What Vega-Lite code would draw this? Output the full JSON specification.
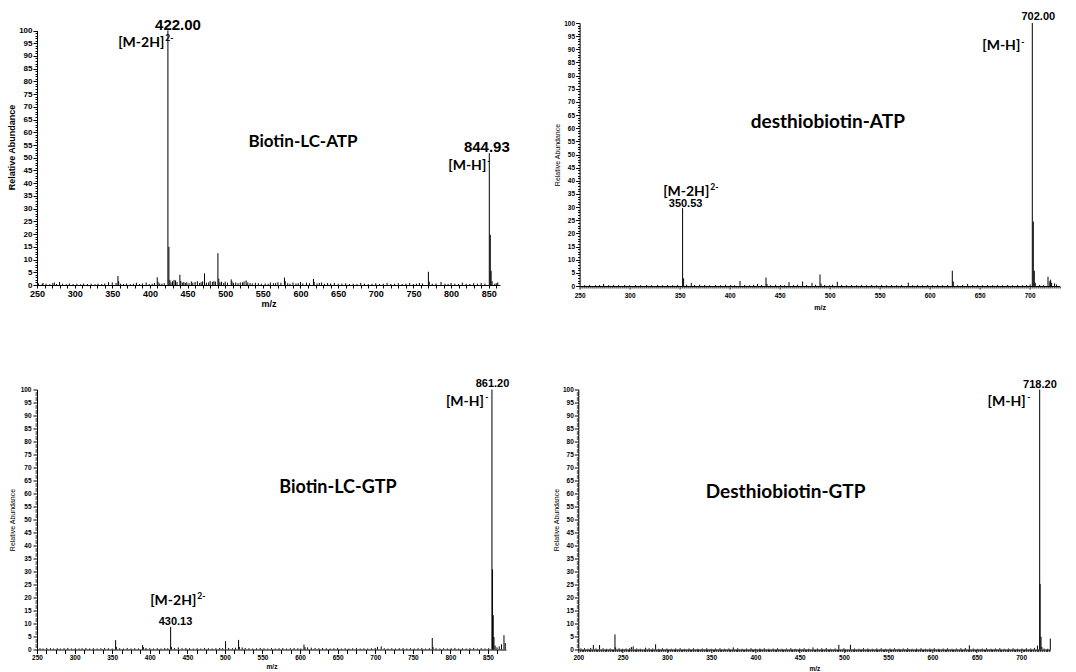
{
"$schema": "https://vega.github.io/schema/vega-lite/v6.json",
"background": "white",
"padding": {"left": 7, "top": 11, "right": 5, "bottom": 3},
"config": {"view": {"stroke": null}},
"datasets": {
"p1": [
{"mz":423.9,"ab":100},{"mz":425.2,"ab":15},{"mz":426.5,"ab":2.0},{"mz":357.5,"ab":3.5},{"mz":358.5,"ab":1.5},{"mz":409.7,"ab":3.0},{"mz":410.8,"ab":1.2},{"mz":430,"ab":1.5},{"mz":432,"ab":2.0},{"mz":434,"ab":1.8},{"mz":439.8,"ab":4.0},{"mz":441,"ab":1.6},{"mz":445,"ab":1.2},{"mz":472.5,"ab":4.6},{"mz":470,"ab":1.4},{"mz":480,"ab":1.6},{"mz":485,"ab":1.5},{"mz":490.3,"ab":12.5},{"mz":491.5,"ab":2.5},{"mz":495,"ab":1.3},{"mz":508,"ab":2.2},{"mz":509,"ab":1.4},{"mz":527.8,"ab":1.8},{"mz":525,"ab":1.4},{"mz":530,"ab":1.0},{"mz":578.7,"ab":2.9},{"mz":579.7,"ab":1.5},{"mz":617.2,"ab":2.4},{"mz":618.2,"ab":1.2},{"mz":769.9,"ab":5.2},{"mz":771,"ab":1.3},{"mz":786.7,"ab":1.2},{"mz":850.8,"ab":51.8},{"mz":852.1,"ab":19.7},{"mz":853.2,"ab":5.6},{"mz":854.5,"ab":1.5},{"mz":862,"ab":1.0},{"mz":280,"ab":1.2},{"mz":273,"ab":1.0},{"mz":258,"ab":0.8},{"mz":345,"ab":1.1},{"mz":350,"ab":1.0},{"mz":395,"ab":1.0},{"mz":382,"ab":0.9},{"mz":455,"ab":1.4},{"mz":460,"ab":1.2},{"mz":463,"ab":1.5},{"mz":449,"ab":1.1},{"mz":500,"ab":1.3},{"mz":514,"ab":1.0},{"mz":520,"ab":1.0},{"mz":540,"ab":0.9},{"mz":560,"ab":1.0},{"mz":570,"ab":1.1},{"mz":590,"ab":1.0},{"mz":600,"ab":1.2},{"mz":608,"ab":0.9},{"mz":628,"ab":1.0},{"mz":636,"ab":0.8},{"mz":645,"ab":0.8},{"mz":660,"ab":0.7},{"mz":680,"ab":0.8},{"mz":700,"ab":0.7},{"mz":715,"ab":0.8},{"mz":730,"ab":0.7},{"mz":745,"ab":0.8},{"mz":758,"ab":0.8},{"mz":800,"ab":0.8},{"mz":815,"ab":0.9},{"mz":830,"ab":0.7},{"mz":840,"ab":0.8},
{"mz":252,"ab":0.6},{"mz":257,"ab":0.4},{"mz":262,"ab":0.5},{"mz":267,"ab":0.3},{"mz":271,"ab":0.7},{"mz":276,"ab":0.4},{"mz":284,"ab":0.5},{"mz":289,"ab":0.3},{"mz":293,"ab":0.6},{"mz":298,"ab":0.4},{"mz":303,"ab":0.5},{"mz":308,"ab":0.3},{"mz":312,"ab":0.6},{"mz":317,"ab":0.4},{"mz":322,"ab":0.5},{"mz":327,"ab":0.3},{"mz":331,"ab":0.5},{"mz":336,"ab":0.4},{"mz":340,"ab":0.6},{"mz":355,"ab":0.8},{"mz":361,"ab":0.5},{"mz":365,"ab":0.4},{"mz":369,"ab":0.6},{"mz":374,"ab":0.3},{"mz":378,"ab":0.5},{"mz":386,"ab":0.4},{"mz":390,"ab":0.6},{"mz":399,"ab":0.4},{"mz":403,"ab":0.5},{"mz":406,"ab":0.8},{"mz":413,"ab":0.6},{"mz":416,"ab":0.5},{"mz":419,"ab":0.7},{"mz":428,"ab":1.0},{"mz":436,"ab":1.2},{"mz":443,"ab":0.9},{"mz":447,"ab":0.8},{"mz":452,"ab":0.7},{"mz":457,"ab":0.9},{"mz":466,"ab":0.8},{"mz":468,"ab":1.1},{"mz":475,"ab":0.9},{"mz":478,"ab":1.0},{"mz":483,"ab":1.2},{"mz":487,"ab":1.3},{"mz":493,"ab":1.0},{"mz":498,"ab":0.8},{"mz":503,"ab":0.9},{"mz":511,"ab":0.8},{"mz":517,"ab":0.7},{"mz":523,"ab":1.0},{"mz":533,"ab":0.8},{"mz":536,"ab":0.6},{"mz":544,"ab":0.7},{"mz":548,"ab":0.5},{"mz":553,"ab":0.6},{"mz":557,"ab":0.5},{"mz":564,"ab":0.7},{"mz":567,"ab":0.8},{"mz":574,"ab":0.9},{"mz":583,"ab":0.7},{"mz":586,"ab":0.5},{"mz":594,"ab":0.6},{"mz":597,"ab":0.7},{"mz":603,"ab":0.6},{"mz":612,"ab":0.7},{"mz":622,"ab":0.6},{"mz":625,"ab":0.8},{"mz":632,"ab":0.5},{"mz":640,"ab":0.6},{"mz":650,"ab":0.5},{"mz":655,"ab":0.6},{"mz":665,"ab":0.4},{"mz":670,"ab":0.5},{"mz":675,"ab":0.4},{"mz":685,"ab":0.5},{"mz":690,"ab":0.4},{"mz":695,"ab":0.5},{"mz":705,"ab":0.4},{"mz":710,"ab":0.5},{"mz":720,"ab":0.4},{"mz":725,"ab":0.5},{"mz":735,"ab":0.4},{"mz":740,"ab":0.5},{"mz":750,"ab":0.4},{"mz":754,"ab":0.5},{"mz":762,"ab":0.6},{"mz":775,"ab":0.5},{"mz":780,"ab":0.6},{"mz":792,"ab":0.5},{"mz":796,"ab":0.4},{"mz":805,"ab":0.5},{"mz":810,"ab":0.4},{"mz":820,"ab":0.5},{"mz":825,"ab":0.4},{"mz":835,"ab":0.5},{"mz":845,"ab":0.6},{"mz":858,"ab":0.5},{"mz":860,"ab":0.7}
],
"t1": [
{"k":"mz","t":"422.00","mz":437.3,"ab":100.1},{"k":"mz","t":"844.93","mz":847.5,"ab":52.1},
{"k":"ion","t":"[M-2H]","mz":419.1,"ab":93.6},{"k":"sup","t":"2-","mz":420.4,"ab":96.0},
{"k":"ion","t":"[M-H]","mz":846.8,"ab":45.3},{"k":"sup","t":"-","mz":848.1,"ab":47.5},
{"k":"name","t":"Biotin-LC-ATP","mz":603.3,"ab":54.3}
],
"p2": [
{"mz":353,"ab":29.6},{"mz":354,"ab":2.9},{"mz":361.7,"ab":1.2},{"mz":410.4,"ab":1.9},{"mz":428,"ab":0.8},{"mz":436.4,"ab":3.2},{"mz":437.4,"ab":0.8},{"mz":459.4,"ab":1.5},{"mz":473,"ab":1.7},{"mz":482.4,"ab":1.2},{"mz":490.4,"ab":4.4},{"mz":491.4,"ab":0.9},{"mz":507.7,"ab":1.6},{"mz":578.7,"ab":1.3},{"mz":622.7,"ab":5.8},{"mz":623.7,"ab":1.7},{"mz":638,"ab":0.8},{"mz":702.7,"ab":100},{"mz":703.7,"ab":24.5},{"mz":704.7,"ab":5.8},{"mz":705.7,"ab":1.2},{"mz":700.5,"ab":0.6},{"mz":718.4,"ab":3.5},{"mz":720.2,"ab":1.8},{"mz":721,"ab":2.4},{"mz":722,"ab":1.2},{"mz":725,"ab":1.0},{"mz":727,"ab":0.6},{"mz":274,"ab":0.8},
{"mz":255,"ab":0.3},{"mz":260,"ab":0.4},{"mz":266,"ab":0.3},{"mz":270,"ab":0.4},{"mz":279,"ab":0.3},{"mz":284,"ab":0.4},{"mz":289,"ab":0.3},{"mz":295,"ab":0.4},{"mz":300,"ab":0.3},{"mz":306,"ab":0.4},{"mz":311,"ab":0.3},{"mz":317,"ab":0.4},{"mz":322,"ab":0.3},{"mz":328,"ab":0.4},{"mz":333,"ab":0.3},{"mz":338,"ab":0.4},{"mz":343,"ab":0.3},{"mz":348,"ab":0.4},{"mz":357,"ab":0.5},{"mz":365,"ab":0.4},{"mz":370,"ab":0.5},{"mz":375,"ab":0.4},{"mz":380,"ab":0.3},{"mz":386,"ab":0.4},{"mz":391,"ab":0.3},{"mz":396,"ab":0.5},{"mz":401,"ab":0.4},{"mz":405,"ab":0.3},{"mz":415,"ab":0.4},{"mz":420,"ab":0.3},{"mz":424,"ab":0.5},{"mz":432,"ab":0.4},{"mz":441,"ab":0.3},{"mz":446,"ab":0.5},{"mz":451,"ab":0.4},{"mz":455,"ab":0.3},{"mz":464,"ab":0.4},{"mz":468,"ab":0.5},{"mz":477,"ab":0.4},{"mz":486,"ab":0.5},{"mz":495,"ab":0.4},{"mz":500,"ab":0.3},{"mz":503,"ab":0.5},{"mz":512,"ab":0.4},{"mz":517,"ab":0.3},{"mz":522,"ab":0.4},{"mz":527,"ab":0.3},{"mz":532,"ab":0.4},{"mz":537,"ab":0.3},{"mz":542,"ab":0.4},{"mz":547,"ab":0.3},{"mz":552,"ab":0.4},{"mz":557,"ab":0.3},{"mz":562,"ab":0.4},{"mz":567,"ab":0.3},{"mz":572,"ab":0.4},{"mz":583,"ab":0.3},{"mz":588,"ab":0.4},{"mz":593,"ab":0.3},{"mz":598,"ab":0.4},{"mz":603,"ab":0.3},{"mz":608,"ab":0.4},{"mz":613,"ab":0.3},{"mz":618,"ab":0.4},{"mz":628,"ab":0.3},{"mz":633,"ab":0.4},{"mz":643,"ab":0.3},{"mz":648,"ab":0.4},{"mz":653,"ab":0.3},{"mz":658,"ab":0.4},{"mz":663,"ab":0.3},{"mz":668,"ab":0.4},{"mz":673,"ab":0.3},{"mz":678,"ab":0.4},{"mz":683,"ab":0.3},{"mz":688,"ab":0.4},{"mz":693,"ab":0.3},{"mz":697,"ab":0.4},{"mz":710,"ab":0.4},{"mz":714,"ab":0.3}
],
"t2": [
{"k":"mz","t":"702.00","mz":708.7,"ab":101.0},{"k":"mz","t":"350.53","mz":356.0,"ab":30.0},
{"k":"ion","t":"[M-H]","mz":690.7,"ab":89.8},{"k":"sup","t":"-","mz":691.7,"ab":91.7},
{"k":"ion","t":"[M-2H]","mz":379.7,"ab":34.3},{"k":"sup","t":"2-","mz":380.7,"ab":36.6},
{"k":"name","t":"desthiobiotin-ATP","mz":498.2,"ab":60.1}
],
"p3": [
{"mz":855.3,"ab":100},{"mz":856,"ab":30.8},{"mz":857,"ab":13.2},{"mz":858,"ab":4.8},{"mz":859.5,"ab":1.5},{"mz":868,"ab":2.0},{"mz":871.3,"ab":5.5},{"mz":873,"ab":2.5},{"mz":865,"ab":1.2},{"mz":862,"ab":0.8},{"mz":427.8,"ab":8.7},{"mz":428.8,"ab":1.0},{"mz":354.6,"ab":3.6},{"mz":355.6,"ab":1.0},{"mz":390.5,"ab":1.7},{"mz":391.5,"ab":0.9},{"mz":500.9,"ab":3.2},{"mz":518.2,"ab":3.7},{"mz":519.2,"ab":1.0},{"mz":605.2,"ab":1.9},{"mz":606.5,"ab":0.9},{"mz":775.9,"ab":4.4},{"mz":777,"ab":0.9},{"mz":708,"ab":1.2},{"mz":703,"ab":1.0},
{"mz":254,"ab":0.5},{"mz":258,"ab":0.4},{"mz":263,"ab":0.6},{"mz":268,"ab":0.5},{"mz":272,"ab":0.4},{"mz":277,"ab":0.5},{"mz":281,"ab":0.4},{"mz":286,"ab":0.5},{"mz":291,"ab":0.6},{"mz":296,"ab":0.4},{"mz":301,"ab":0.5},{"mz":306,"ab":0.4},{"mz":310,"ab":0.5},{"mz":315,"ab":0.6},{"mz":320,"ab":0.4},{"mz":325,"ab":0.5},{"mz":330,"ab":0.4},{"mz":335,"ab":0.5},{"mz":340,"ab":0.6},{"mz":345,"ab":0.5},{"mz":350,"ab":0.4},{"mz":360,"ab":0.5},{"mz":365,"ab":0.4},{"mz":370,"ab":0.6},{"mz":375,"ab":0.4},{"mz":380,"ab":0.5},{"mz":385,"ab":0.4},{"mz":395,"ab":0.6},{"mz":400,"ab":0.5},{"mz":405,"ab":0.4},{"mz":410,"ab":0.5},{"mz":415,"ab":0.4},{"mz":420,"ab":0.6},{"mz":424,"ab":0.5},{"mz":433,"ab":0.6},{"mz":438,"ab":0.8},{"mz":443,"ab":0.5},{"mz":448,"ab":0.6},{"mz":453,"ab":0.5},{"mz":458,"ab":0.4},{"mz":463,"ab":0.5},{"mz":468,"ab":0.4},{"mz":473,"ab":0.6},{"mz":478,"ab":0.5},{"mz":483,"ab":0.4},{"mz":488,"ab":0.5},{"mz":493,"ab":0.6},{"mz":497,"ab":0.5},{"mz":505,"ab":0.6},{"mz":510,"ab":0.5},{"mz":514,"ab":0.7},{"mz":523,"ab":0.8},{"mz":527,"ab":0.6},{"mz":532,"ab":0.5},{"mz":537,"ab":0.4},{"mz":542,"ab":0.5},{"mz":547,"ab":0.6},{"mz":552,"ab":0.5},{"mz":557,"ab":0.4},{"mz":562,"ab":0.5},{"mz":567,"ab":0.4},{"mz":572,"ab":0.5},{"mz":577,"ab":0.6},{"mz":582,"ab":0.4},{"mz":587,"ab":0.5},{"mz":592,"ab":0.6},{"mz":597,"ab":0.5},{"mz":601,"ab":0.4},{"mz":610,"ab":0.8},{"mz":615,"ab":0.7},{"mz":620,"ab":0.6},{"mz":625,"ab":0.5},{"mz":630,"ab":0.6},{"mz":635,"ab":0.5},{"mz":640,"ab":0.4},{"mz":645,"ab":0.5},{"mz":650,"ab":0.6},{"mz":655,"ab":0.4},{"mz":660,"ab":0.5},{"mz":665,"ab":0.4},{"mz":670,"ab":0.5},{"mz":675,"ab":0.6},{"mz":680,"ab":0.4},{"mz":685,"ab":0.5},{"mz":690,"ab":0.4},{"mz":695,"ab":0.5},{"mz":700,"ab":0.6},{"mz":712,"ab":0.5},{"mz":717,"ab":0.4},{"mz":722,"ab":0.5},{"mz":727,"ab":0.4},{"mz":732,"ab":0.5},{"mz":737,"ab":0.6},{"mz":742,"ab":0.4},{"mz":747,"ab":0.5},{"mz":752,"ab":0.4},{"mz":757,"ab":0.5},{"mz":762,"ab":0.6},{"mz":767,"ab":0.4},{"mz":772,"ab":0.5},{"mz":781,"ab":0.5},{"mz":786,"ab":0.4},{"mz":791,"ab":0.5},{"mz":796,"ab":0.4},{"mz":801,"ab":0.5},{"mz":806,"ab":0.6},{"mz":811,"ab":0.4},{"mz":816,"ab":0.5},{"mz":821,"ab":0.4},{"mz":826,"ab":0.5},{"mz":831,"ab":0.6},{"mz":836,"ab":0.4},{"mz":841,"ab":0.5},{"mz":846,"ab":0.4},{"mz":851,"ab":0.5}
],
"t3": [
{"k":"mz","t":"861.20","mz":856.0,"ab":100.8},{"k":"mz","t":"430.13","mz":434.3,"ab":9.35},
{"k":"ion","t":"[M-H]","mz":844.7,"ab":93.6},{"k":"sup","t":"-","mz":846.5,"ab":95.9},
{"k":"ion","t":"[M-2H]","mz":462.0,"ab":17.0},{"k":"sup","t":"2-","mz":463.3,"ab":19.3},
{"k":"name","t":"Biotin-LC-GTP","mz":650.5,"ab":60.1}
],
"p4": [
{"mz":721,"ab":100},{"mz":721.5,"ab":25.2},{"mz":722.5,"ab":4.9},{"mz":723.5,"ab":1.0},{"mz":718.5,"ab":1.5},{"mz":733,"ab":4.2},{"mz":241.4,"ab":5.8},{"mz":242.2,"ab":0.8},{"mz":224,"ab":1.7},{"mz":217,"ab":1.7},{"mz":262,"ab":1.2},{"mz":287.3,"ab":2.0},{"mz":494.2,"ab":1.8},{"mz":507.3,"ab":1.8},{"mz":641.6,"ab":1.6},{"mz":465,"ab":0.8},{"mz":375,"ab":0.8},{"mz":480,"ab":0.6},{"mz":260,"ab":0.9},{"mz":276,"ab":0.7},
{"mz":203,"ab":0.4},{"mz":207,"ab":0.5},{"mz":211,"ab":0.3},{"mz":214,"ab":0.6},{"mz":220,"ab":0.4},{"mz":228,"ab":0.5},{"mz":232,"ab":0.3},{"mz":236,"ab":0.4},{"mz":246,"ab":0.5},{"mz":250,"ab":0.3},{"mz":254,"ab":0.4},{"mz":258,"ab":0.5},{"mz":266,"ab":0.4},{"mz":270,"ab":0.3},{"mz":280,"ab":0.5},{"mz":284,"ab":0.4},{"mz":291,"ab":0.3},{"mz":295,"ab":0.5},{"mz":300,"ab":0.4},{"mz":305,"ab":0.3},{"mz":310,"ab":0.4},{"mz":315,"ab":0.5},{"mz":320,"ab":0.3},{"mz":325,"ab":0.4},{"mz":330,"ab":0.5},{"mz":335,"ab":0.3},{"mz":340,"ab":0.4},{"mz":345,"ab":0.5},{"mz":350,"ab":0.3},{"mz":355,"ab":0.4},{"mz":360,"ab":0.5},{"mz":365,"ab":0.3},{"mz":370,"ab":0.4},{"mz":380,"ab":0.5},{"mz":385,"ab":0.3},{"mz":390,"ab":0.4},{"mz":395,"ab":0.5},{"mz":400,"ab":0.3},{"mz":405,"ab":0.4},{"mz":410,"ab":0.5},{"mz":415,"ab":0.3},{"mz":420,"ab":0.4},{"mz":425,"ab":0.5},{"mz":430,"ab":0.3},{"mz":435,"ab":0.4},{"mz":440,"ab":0.5},{"mz":445,"ab":0.3},{"mz":450,"ab":0.4},{"mz":455,"ab":0.5},{"mz":460,"ab":0.3},{"mz":470,"ab":0.4},{"mz":475,"ab":0.5},{"mz":485,"ab":0.3},{"mz":490,"ab":0.4},{"mz":500,"ab":0.5},{"mz":512,"ab":0.4},{"mz":517,"ab":0.3},{"mz":522,"ab":0.5},{"mz":527,"ab":0.4},{"mz":532,"ab":0.3},{"mz":537,"ab":0.4},{"mz":542,"ab":0.5},{"mz":547,"ab":0.3},{"mz":552,"ab":0.4},{"mz":557,"ab":0.5},{"mz":562,"ab":0.3},{"mz":567,"ab":0.4},{"mz":572,"ab":0.5},{"mz":577,"ab":0.3},{"mz":582,"ab":0.4},{"mz":587,"ab":0.5},{"mz":592,"ab":0.3},{"mz":597,"ab":0.4},{"mz":602,"ab":0.5},{"mz":607,"ab":0.3},{"mz":612,"ab":0.4},{"mz":617,"ab":0.5},{"mz":622,"ab":0.3},{"mz":627,"ab":0.4},{"mz":632,"ab":0.5},{"mz":637,"ab":0.6},{"mz":646,"ab":0.4},{"mz":651,"ab":0.3},{"mz":656,"ab":0.4},{"mz":661,"ab":0.5},{"mz":666,"ab":0.3},{"mz":671,"ab":0.4},{"mz":676,"ab":0.5},{"mz":681,"ab":0.3},{"mz":686,"ab":0.4},{"mz":691,"ab":0.5},{"mz":696,"ab":0.3},{"mz":701,"ab":0.4},{"mz":706,"ab":0.5},{"mz":711,"ab":0.4},{"mz":715,"ab":0.6},{"mz":726,"ab":0.4},{"mz":730,"ab":0.3}
],
"t4": [
{"k":"mz","t":"718.20","mz":721.3,"ab":100.4},
{"k":"ion","t":"[M-H]","mz":705.1,"ab":93.6},{"k":"sup","t":"-","mz":707.0,"ab":95.9},
{"k":"name","t":"Desthiobiotin-GTP","mz":434.1,"ab":58.2}
]
},
"spacing": 66.5,
"vconcat": [
{
"hconcat": [
{
"width": 463, "height": 262,
"encoding": {
  "x": {"field": "mz", "type": "quantitative", "scale": {"domain": [250, 865], "nice": false, "zero": false},
   "axis": {"title": "m/z", "tickCount": 62, "labelExpr": "datum.value % 50 === 0 ? '' + datum.value : ''", "labelOverlap": false, "labelFlush": false, "grid": false, "domainColor": "#000", "tickColor": "#000", "tickSize": 3, "labelFont": "Liberation Sans", "labelFontWeight": "bold", "labelFontSize": 9, "labelColor": "#000", "labelPadding": 1, "titleFont": "Liberation Sans", "titleFontWeight": "bold", "titleFontSize": 9, "titleColor": "#000", "titlePadding": 1}},
  "y": {"field": "ab", "type": "quantitative", "scale": {"domain": [0, 100], "nice": false, "range": [262, 7.5]},
   "axis": {"title": "Relative Abundance", "titleY": 124, "tickCount": 100, "labelExpr": "datum.value % 5 === 0 ? '' + datum.value : ''", "labelOverlap": false, "labelFlush": false, "grid": false, "domainColor": "#000", "tickColor": "#000", "tickSize": {"condition": {"test": "datum.value % 5 === 0", "value": 4}, "value": 2}, "labelFont": "Liberation Sans", "labelFontWeight": "bold", "labelFontSize": 8, "labelColor": "#000", "labelPadding": 1, "titleFont": "Liberation Sans", "titleFontWeight": "bold", "titleFontSize": 9, "titleColor": "#000", "titlePadding": 2}}
},
"layer": [
{"data": {"name": "p1"}, "mark": {"type": "rule", "color": "#000", "strokeWidth": 1}, "encoding": {"y2": {"datum": 0}}},
{"data": {"name": "t1"}, "transform": [{"filter": "datum.k === 'mz'"}], "mark": {"type": "text", "font": "Liberation Sans", "fontWeight": "bold", "fontSize": 15, "align": "center", "baseline": "alphabetic", "color": "#000"}, "encoding": {"text": {"field": "t"}}},
{"data": {"name": "t1"}, "transform": [{"filter": "datum.k === 'ion'"}], "mark": {"type": "text", "font": "Lato", "fontWeight": "bold", "fontSize": 14, "align": "right", "baseline": "alphabetic", "color": "#000"}, "encoding": {"text": {"field": "t"}}},
{"data": {"name": "t1"}, "transform": [{"filter": "datum.k === 'sup'"}], "mark": {"type": "text", "font": "Lato", "fontWeight": "bold", "fontSize": 8.5, "align": "left", "baseline": "alphabetic", "color": "#000"}, "encoding": {"text": {"field": "t"}}},
{"data": {"name": "t1"}, "transform": [{"filter": "datum.k === 'name'"}], "mark": {"type": "text", "font": "Lato", "fontWeight": "bold", "fontSize": 17, "align": "center", "baseline": "alphabetic", "color": "#000"}, "encoding": {"text": {"field": "t"}}}
]
},
{
"width": 480, "height": 263,
"encoding": {
  "x": {"field": "mz", "type": "quantitative", "scale": {"domain": [250, 730], "nice": false, "zero": false},
   "axis": {"title": "m/z", "tickCount": 240, "labelExpr": "datum.value % 50 === 0 ? '' + datum.value : ''", "labelOverlap": false, "labelFlush": false, "grid": false, "domainColor": "#000", "tickColor": "#000", "tickSize": {"condition": {"test": "datum.value % 50 === 0", "value": 3}, "value": 2}, "labelFont": "Liberation Sans", "labelFontWeight": "bold", "labelFontSize": 6.5, "labelColor": "#000", "labelPadding": 3, "titleFont": "Liberation Sans", "titleFontWeight": "bold", "titleFontSize": 7, "titleColor": "#000", "titlePadding": 5}},
  "y": {"field": "ab", "type": "quantitative", "scale": {"domain": [0, 100], "nice": false},
   "axis": {"title": "Relative Abundance", "tickCount": 100, "labelExpr": "datum.value % 5 === 0 ? '' + datum.value : ''", "labelOverlap": false, "labelFlush": false, "grid": false, "domainColor": "#000", "tickColor": "#000", "tickSize": {"condition": {"test": "datum.value % 5 === 0", "value": 4}, "value": 2}, "labelFont": "Liberation Sans", "labelFontWeight": "bold", "labelFontSize": 6.5, "labelColor": "#000", "labelPadding": 1, "titleFont": "Liberation Sans", "titleFontWeight": "normal", "titleFontSize": 7, "titleColor": "#000", "titlePadding": 3}}
},
"layer": [
{"data": {"name": "p2"}, "mark": {"type": "rule", "color": "#000", "strokeWidth": 1}, "encoding": {"y2": {"datum": 0}}},
{"data": {"name": "t2"}, "transform": [{"filter": "datum.k === 'mz'"}], "mark": {"type": "text", "font": "Liberation Sans", "fontWeight": "bold", "fontSize": 11, "align": "center", "baseline": "alphabetic", "color": "#000"}, "encoding": {"text": {"field": "t"}}},
{"data": {"name": "t2"}, "transform": [{"filter": "datum.k === 'ion'"}], "mark": {"type": "text", "font": "Lato", "fontWeight": "bold", "fontSize": 14, "align": "right", "baseline": "alphabetic", "color": "#000"}, "encoding": {"text": {"field": "t"}}},
{"data": {"name": "t2"}, "transform": [{"filter": "datum.k === 'sup'"}], "mark": {"type": "text", "font": "Lato", "fontWeight": "bold", "fontSize": 8.5, "align": "left", "baseline": "alphabetic", "color": "#000"}, "encoding": {"text": {"field": "t"}}},
{"data": {"name": "t2"}, "transform": [{"filter": "datum.k === 'name'"}], "mark": {"type": "text", "font": "Lato", "fontWeight": "bold", "fontSize": 19, "align": "center", "baseline": "alphabetic", "color": "#000"}, "encoding": {"text": {"field": "t"}}}
]
}
],
"spacing": 79.6,
"bounds": "flush"
},
{
"hconcat": [
{
"width": 469, "height": 260,
"encoding": {
  "x": {"field": "mz", "type": "quantitative", "scale": {"domain": [250, 874], "nice": false, "zero": false},
   "axis": {"title": "m/z", "values": [250,262.5,275,287.5,300,312.5,325,337.5,350,362.5,375,387.5,400,412.5,425,437.5,450,462.5,475,487.5,500,512.5,525,537.5,550,562.5,575,587.5,600,612.5,625,637.5,650,662.5,675,687.5,700,712.5,725,737.5,750,762.5,775,787.5,800,812.5,825,837.5,850,862.5], "labelExpr": "datum.value % 50 === 0 ? '' + datum.value : ''", "labelOverlap": false, "labelFlush": false, "grid": false, "domainColor": "#000", "tickColor": "#000", "tickSize": 4, "labelFont": "Liberation Sans", "labelFontWeight": "bold", "labelFontSize": 6.5, "labelColor": "#000", "labelPadding": 1, "titleFont": "Liberation Sans", "titleFontWeight": "bold", "titleFontSize": 6.5, "titleColor": "#000", "titlePadding": 2}},
  "y": {"field": "ab", "type": "quantitative", "scale": {"domain": [0, 100], "nice": false},
   "axis": {"title": "Relative Abundance", "tickCount": 100, "labelExpr": "datum.value % 5 === 0 ? '' + datum.value : ''", "labelOverlap": false, "labelFlush": false, "grid": false, "domainColor": "#000", "tickColor": "#000", "tickSize": {"condition": {"test": "datum.value % 5 === 0", "value": 4}, "value": 2}, "labelFont": "Liberation Sans", "labelFontWeight": "bold", "labelFontSize": 6.5, "labelColor": "#000", "labelPadding": 2, "titleFont": "Liberation Sans", "titleFontWeight": "normal", "titleFontSize": 7, "titleColor": "#000", "titlePadding": 5}}
},
"layer": [
{"data": {"name": "p3"}, "mark": {"type": "rule", "color": "#000", "strokeWidth": 1}, "encoding": {"y2": {"datum": 0}}},
{"data": {"name": "t3"}, "transform": [{"filter": "datum.k === 'mz'"}], "mark": {"type": "text", "font": "Liberation Sans", "fontWeight": "bold", "fontSize": 11, "align": "center", "baseline": "alphabetic", "color": "#000"}, "encoding": {"text": {"field": "t"}}},
{"data": {"name": "t3"}, "transform": [{"filter": "datum.k === 'ion'"}], "mark": {"type": "text", "font": "Lato", "fontWeight": "bold", "fontSize": 14, "align": "right", "baseline": "alphabetic", "color": "#000"}, "encoding": {"text": {"field": "t"}}},
{"data": {"name": "t3"}, "transform": [{"filter": "datum.k === 'sup'"}], "mark": {"type": "text", "font": "Lato", "fontWeight": "bold", "fontSize": 8.5, "align": "left", "baseline": "alphabetic", "color": "#000"}, "encoding": {"text": {"field": "t"}}},
{"data": {"name": "t3"}, "transform": [{"filter": "datum.k === 'name'"}], "mark": {"type": "text", "font": "Lato", "fontWeight": "bold", "fontSize": 18, "align": "center", "baseline": "alphabetic", "color": "#000"}, "encoding": {"text": {"field": "t"}}}
]
},
{
"width": 472, "height": 260,
"encoding": {
  "x": {"field": "mz", "type": "quantitative", "scale": {"domain": [200, 733], "nice": false, "zero": false},
   "axis": {"title": "m/z", "tickCount": 266, "labelExpr": "datum.value % 50 === 0 ? '' + datum.value : ''", "labelOverlap": false, "labelFlush": false, "grid": false, "domainColor": "#000", "tickColor": "#000", "tickSize": {"condition": {"test": "datum.value % 50 === 0", "value": 3}, "value": 2}, "labelFont": "Liberation Sans", "labelFontWeight": "bold", "labelFontSize": 6.5, "labelColor": "#000", "labelPadding": 2, "titleFont": "Liberation Sans", "titleFontWeight": "bold", "titleFontSize": 6.5, "titleColor": "#000", "titlePadding": 4}},
  "y": {"field": "ab", "type": "quantitative", "scale": {"domain": [0, 100], "nice": false},
   "axis": {"title": "Relative Abundance", "tickCount": 100, "labelExpr": "datum.value % 5 === 0 ? '' + datum.value : ''", "labelOverlap": false, "labelFlush": false, "grid": false, "domainColor": "#000", "tickColor": "#000", "tickSize": {"condition": {"test": "datum.value % 5 === 0", "value": 4}, "value": 2}, "labelFont": "Liberation Sans", "labelFontWeight": "bold", "labelFontSize": 6.5, "labelColor": "#000", "labelPadding": 1, "titleFont": "Liberation Sans", "titleFontWeight": "normal", "titleFontSize": 7, "titleColor": "#000", "titlePadding": 3}}
},
"layer": [
{"data": {"name": "p4"}, "mark": {"type": "rule", "color": "#000", "strokeWidth": 1}, "encoding": {"y2": {"datum": 0}}},
{"data": {"name": "t4"}, "transform": [{"filter": "datum.k === 'mz'"}], "mark": {"type": "text", "font": "Liberation Sans", "fontWeight": "bold", "fontSize": 11, "align": "center", "baseline": "alphabetic", "color": "#000"}, "encoding": {"text": {"field": "t"}}},
{"data": {"name": "t4"}, "transform": [{"filter": "datum.k === 'ion'"}], "mark": {"type": "text", "font": "Lato", "fontWeight": "bold", "fontSize": 14, "align": "right", "baseline": "alphabetic", "color": "#000"}, "encoding": {"text": {"field": "t"}}},
{"data": {"name": "t4"}, "transform": [{"filter": "datum.k === 'sup'"}], "mark": {"type": "text", "font": "Lato", "fontWeight": "bold", "fontSize": 8.5, "align": "left", "baseline": "alphabetic", "color": "#000"}, "encoding": {"text": {"field": "t"}}},
{"data": {"name": "t4"}, "transform": [{"filter": "datum.k === 'name'"}], "mark": {"type": "text", "font": "Lato", "fontWeight": "bold", "fontSize": 19, "align": "center", "baseline": "alphabetic", "color": "#000"}, "encoding": {"text": {"field": "t"}}}
]
}
],
"spacing": 72.3,
"bounds": "flush"
}
]
}
